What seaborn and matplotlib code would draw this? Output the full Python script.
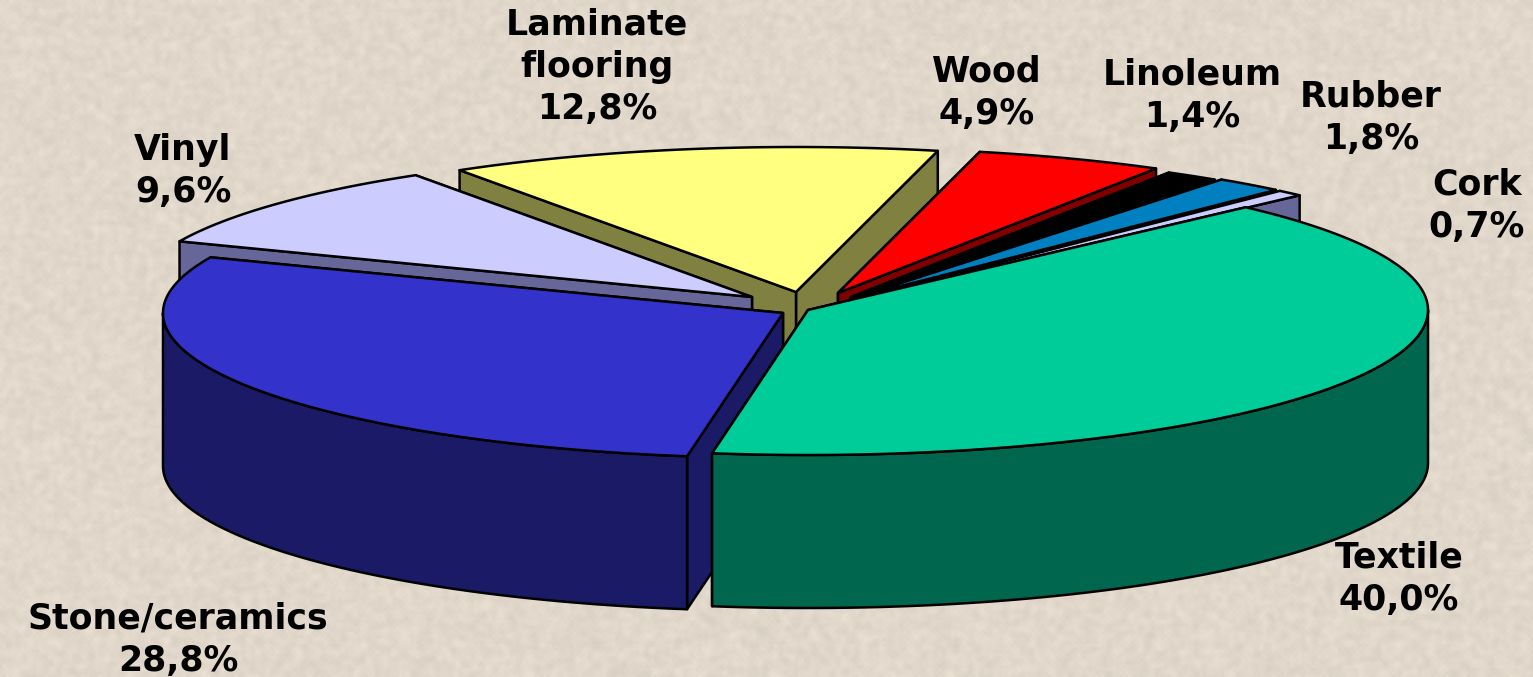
import numpy as np
import matplotlib
matplotlib.use('Agg')
import matplotlib.pyplot as plt
import seaborn as sns

## Chart data
materials = ['Cork', 'Rubber', 'Linoleum', 'Wood', 'Laminate\nflooring', 'Vinyl', 'Stone/ceramics', 'Textile']
shares = [0.7, 1.8, 1.4, 4.9, 12.8, 9.6, 28.8, 40.0]
top_colors = ['#CCCCFF', '#0080C0', '#000000', '#FF0000', '#FFFF80', '#CCCCFF', '#3333CC', '#00CC99']
side_colors = ['#666699', '#004060', '#000000', '#800000', '#808040', '#666699', '#1A1A66', '#00664D']

## Layout, in pixels
rx, ry, depth = 620, 145, 153
start_angle = 45.1
apex_x = [862, 858, 851, 838, 796, 752, 783, 808]
apex_y = [298, 297, 297, 293, 292, 297, 313, 310]
label_x = [1477, 1371, 1192, 987, 597, 183, 178, 1399]
label_y = [206, 118, 96, 93, 67, 171, 640, 579]
draw_order = [4, 3, 2, 1, 0, 5, 6, 7]

sns.set_theme(style='white')
plt.rcParams['font.family'] = ['DejaVu Sans']

fig, ax = plt.subplots(figsize=(15.33, 6.77), dpi=100)
ax.set_position([0, 0, 1, 1])

#### Mottled paper background, deterministic hash noise
yy, xx = np.mgrid[0:226, 0:511]
noise = np.sin(xx * 12.9898 + yy * 78.233) * 43758.5453
noise = noise - np.floor(noise)
blur = (noise + np.roll(noise, 1, 0) + np.roll(noise, 1, 1) + np.roll(noise, -1, 0) + np.roll(noise, -1, 1)) / 5
shade = 1 - 0.11 * (blur - 0.5)
base = np.array([225, 216, 203]) / 255
ax.imshow(np.clip(shade[..., None] * base, 0, 1), extent=(0, 1533, 677, 0), aspect='auto', interpolation='bilinear')

ax.set_xlim(0, 1533)
ax.set_ylim(677, 0)
ax.axis('off')
sns.despine(fig=fig, left=True, bottom=True)

## Slices: angle from the shares, going counter clockwise
ends = start_angle + np.cumsum(shares) * 3.6
starts = ends - np.array(shares) * 3.6


def arc(t0, t1, cx, cy):
    t = np.radians(np.linspace(t0, t1, 120))
    return cx + rx * np.cos(t), cy - ry * np.sin(t)


line = dict(edgecolor='black', linewidth=1.8, joinstyle='round')
for i in draw_order:
    cx, cy = apex_x[i], apex_y[i]
    t0, t1 = starts[i], ends[i]
    # the two cut walls, the one ending lower on the page goes last
    for t in sorted((t0, t1), key=lambda a: -np.sin(np.radians(a))):
        ex, ey = arc(t, t, cx, cy)
        ax.fill([cx, ex[0], ex[0], cx], [cy, ey[0], ey[0] + depth, cy + depth],
                facecolor=side_colors[i], **line)
    # outer wall, only the part facing the viewer
    a0, a1 = max(t0, 180), min(t1, 360)
    if a1 > a0:
        wx, wy = arc(a0, a1, cx, cy)
        ax.fill(np.r_[wx, wx[::-1]], np.r_[wy, wy[::-1] + depth],
                facecolor=side_colors[i], **line)
    # top face
    tx, ty = arc(t0, t1, cx, cy)
    ax.fill(np.r_[cx, tx], np.r_[cy, ty], facecolor=top_colors[i], **line)

for i in range(len(materials)):
    label = materials[i] + '\n' + '{:.1f}%'.format(shares[i]).replace('.', ',')
    ax.text(label_x[i], label_y[i], label, ha='center', va='center', fontsize=25,
            fontweight='bold', color='black', linespacing=1.3)

plt.savefig('out.png', dpi=100)
